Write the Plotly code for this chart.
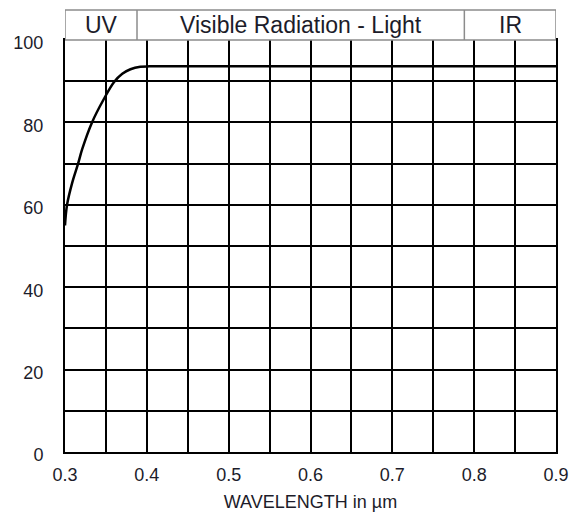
import plotly.graph_objects as go

# Transmission curve
wavelength = [0.300, 0.3025, 0.309, 0.316, 0.321, 0.333, 0.347, 0.360, 0.370, 0.380, 0.392, 0.403, 0.412, 0.500, 0.700, 0.900]
transmission = [55.0, 60.0, 65.5, 70.0, 73.5, 80.0, 85.5, 89.8, 91.8, 92.9, 93.5, 93.6, 93.6, 93.6, 93.6, 93.6]

x_ticks = [0.3, 0.4, 0.5, 0.6, 0.7, 0.8, 0.9]
y_ticks = [0, 20, 40, 60, 80, 100]

band_edges = [0.3, 0.388, 0.788, 0.9]
band_labels = ["UV", "Visible Radiation - Light", "IR"]

FONT = "Liberation Sans, Arial, sans-serif"
TXT = "#1c1c2a"

fig = go.Figure()
fig.add_trace(go.Scatter(
    x=wavelength, y=transmission, mode="lines",
    line=dict(color="black", width=2.5, shape="spline", smoothing=1.0),
    hoverinfo="skip", showlegend=False,
))

plot_h = 412
band_top = 1 + 30 / plot_h

shapes = [dict(type="rect", xref="x", yref="paper", x0=band_edges[0], x1=band_edges[-1],
               y0=1, y1=band_top, line=dict(color="#8c8c8c", width=1.5), fillcolor="white", layer="above")]
for e in band_edges[1:-1]:
    shapes.append(dict(type="line", xref="x", yref="paper", x0=e, x1=e, y0=1, y1=band_top,
                       line=dict(color="#8c8c8c", width=1.5)))
annotations = []
for i, lab in enumerate(band_labels):
    annotations.append(dict(x=(band_edges[i] + band_edges[i + 1]) / 2, y=(1 + band_top) / 2,
                            xref="x", yref="paper", text=lab, showarrow=False,
                            font=dict(family=FONT, size=23, color=TXT), yanchor="middle"))

# page body has an 8px margin: figure is offset by 8px
fig.update_layout(
    width=574, height=504,
    margin=dict(l=57, r=26, t=32, b=60, autoexpand=False),
    paper_bgcolor="white", plot_bgcolor="white",
    shapes=shapes, annotations=annotations,
    font=dict(family=FONT, size=18, color=TXT),
)
fig.update_xaxes(
    range=[0.3, 0.9], tickvals=x_ticks, ticktext=[f"{v:.1f}" for v in x_ticks],
    showgrid=True, gridcolor="black", gridwidth=1.5,
    minor=dict(dtick=0.05, tick0=0.3, showgrid=True, gridcolor="black", gridwidth=1.5),
    showline=True, mirror=True, linecolor="black", linewidth=2,
    zeroline=False, ticks="", ticklabelstandoff=5, automargin=False,
    title=dict(text="WAVELENGTH in µm", font=dict(size=18, family=FONT, color=TXT), standoff=14),
)
fig.update_yaxes(
    range=[0, 100], tickvals=y_ticks,
    showgrid=True, gridcolor="black", gridwidth=1.5,
    minor=dict(dtick=10, tick0=0, showgrid=True, gridcolor="black", gridwidth=1.5),
    showline=True, mirror=True, linecolor="black", linewidth=2,
    zeroline=False, ticks="", ticklabelstandoff=16, ticklabelshift=3, automargin=False,
)

fig.write_html("out.html")
